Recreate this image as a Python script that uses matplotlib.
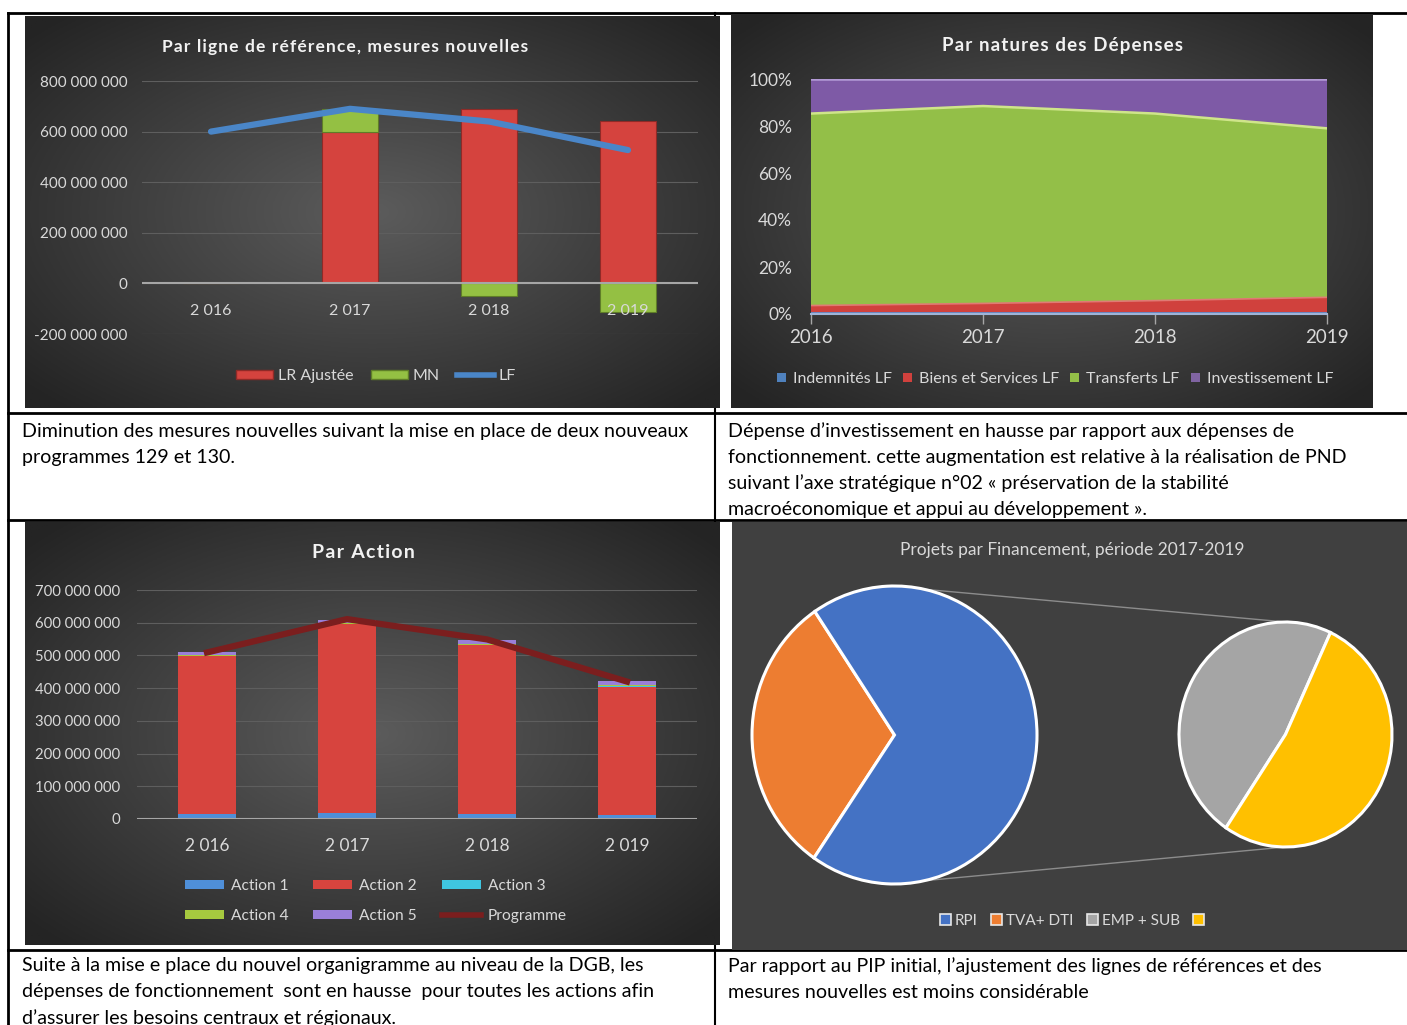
import numpy as np
import matplotlib
matplotlib.use('Agg')
import matplotlib.pyplot as plt
from matplotlib.patches import Patch, ConnectionPatch
from matplotlib.lines import Line2D
from matplotlib.ticker import FuncFormatter

plt.rcParams['font.family'] = ['Lato', 'DejaVu Sans']

W, H = 1407, 1025

# --- chart 1: ligne de reference / mesures nouvelles
annees_lbl = ['2 016', '2 017', '2 018', '2 019']
lr_ajustee = [0, 600e6, 690e6, 640e6]
mn = [0, 90e6, -50e6, -115e6]
lf = [600e6, 690e6, 640e6, 527e6]

# --- chart 2: natures des depenses (parts en %)
annees = [2016, 2017, 2018, 2019]
indemnites = [0.8, 0.8, 0.8, 0.8]
biens_services = [2.8, 3.7, 4.9, 6.3]
transferts = [81.7, 84.0, 79.6, 71.9]
investissement = [14.7, 11.5, 14.7, 21.0]

# --- chart 3: par action
action1 = [15e6, 18e6, 15e6, 12e6]
action2 = [483e6, 577e6, 517e6, 392e6]
action3 = [1e6, 1e6, 1e6, 2e6]
action4 = [2e6, 2e6, 2e6, 4e6]
action5 = [9e6, 11e6, 12e6, 11e6]
programme = [509e6, 611e6, 549e6, 420e6]

# --- chart 4: projets par financement
pie_labels = ['RPI', 'TVA+ DTI', 'EMP + SUB', '']
main_vals = [31, 69]        # TVA+ DTI, RPI
second_vals = [47.5, 52.5]  # EMP + SUB, (sans libelle)

TXT = '#d9d9d9'


def rect(x0, y0, x1, y1):
    return [x0 / W, 1 - y1 / H, (x1 - x0) / W, (y1 - y0) / H]


def spaced(s):
    # excel titles are letter-spaced
    return '\u200a'.join(s)


def panel(fig, x0, y0, x1, y1):
    ax = fig.add_axes(rect(x0, y0, x1, y1), zorder=1)
    yy, xx = np.mgrid[-1:1:200j, -1:1:300j]
    r = np.clip(np.sqrt(xx ** 2 + yy ** 2) / 1.35, 0, 1)[..., None]
    c0 = np.array([0x5c, 0x5c, 0x5c]) / 255
    c1 = np.array([0x24, 0x24, 0x24]) / 255
    ax.imshow(c0 * (1 - r) + c1 * r, extent=[0, 1, 0, 1], aspect='auto')
    ax.set_axis_off()
    return ax


def style_axes(ax):
    ax.set_facecolor('none')
    for s in ax.spines.values():
        s.set_visible(False)
    ax.tick_params(length=0, colors=TXT)


def grid_lines(ax, ticks):
    for t in ticks:
        ax.axhline(t, color='#5e5e5e', lw=0.8, zorder=0.5)


fmt_num = FuncFormatter(lambda v, p: f'{v:,.0f}'.replace(',', ' '))

fig = plt.figure(figsize=(W / 100, H / 100), dpi=100)
fig.patch.set_facecolor('white')

# base layer: table lines and text cells
base = fig.add_axes([0, 0, 1, 1], zorder=0)
base.set_xlim(0, W)
base.set_ylim(H, 0)
base.set_axis_off()
for y in [13, 413, 520, 950]:
    base.plot([8, W], [y, y], color='black', lw=2)
base.plot([8, 8], [13, H], color='black', lw=2)
base.plot([715, 715], [13, H], color='black', lw=1.5)

cell_font = dict(fontsize=14.1, color='black', va='center', ha='left')
left1 = ['Diminution des mesures nouvelles suivant la mise en place de deux nouveaux',
         'programmes 129 et 130.']
right1 = ['Dépense d’investissement en hausse par rapport aux dépenses de',
          'fonctionnement. cette augmentation est relative à la réalisation de PND',
          'suivant l’axe stratégique n°02 « préservation de la stabilité',
          'macroéconomique et appui au développement ».']
left2 = ['Suite à la mise e place du nouvel organigramme au niveau de la DGB, les',
         'dépenses de fonctionnement  sont en hausse  pour toutes les actions afin',
         'd’assurer les besoins centraux et régionaux.']
right2 = ['Par rapport au PIP initial, l’ajustement des lignes de références et des',
          'mesures nouvelles est moins considérable']
for lines, x, y0 in [(left1, 22, 431), (right1, 728, 431), (left2, 22, 966), (right2, 728, 966)]:
    for i, t in enumerate(lines):
        base.text(x, y0 + 26 * i, t, **cell_font)

# ---------------- chart 1
panel(fig, 25, 16, 720, 408)
ax1 = fig.add_axes(rect(141.5, 81, 697.5, 334), zorder=2)
style_axes(ax1)
x = np.arange(len(annees_lbl))
lr = np.array(lr_ajustee)
m = np.array(mn)
ax1.bar(x, lr, width=0.4, color='#d5433e', edgecolor='#8f2a27', lw=0.8, zorder=1)
ax1.bar(x, m, bottom=np.where(m >= 0, lr, 0), width=0.4, color='#94c043',
        edgecolor='#5f7d28', lw=0.8, zorder=1)
ax1.plot(x, lf, color='#4a86c8', lw=4.5, solid_capstyle='round', zorder=4)
ax1.set_xlim(-0.5, 3.5)
ax1.set_ylim(-2e8, 8e8)
yt1 = np.arange(-2e8, 8.01e8, 2e8)
ax1.set_yticks(yt1)
ax1.yaxis.set_major_formatter(fmt_num)
grid_lines(ax1, yt1)
ax1.axhline(0, color='#a6a6a6', lw=1.5, zorder=1.2)
ax1.set_xticks(x)
ax1.set_xticklabels(annees_lbl)
ax1.tick_params(axis='y', pad=10, labelsize=11)
ax1.tick_params(axis='x', pad=15, labelsize=11.5)
ax1.spines['bottom'].set_position(('data', 0))
fig.text(345 / W, 1 - 47 / H, spaced('Par ligne de référence, mesures nouvelles'), ha='center',
         va='center', fontsize=12.5, fontweight='bold', color='#f2f2f2', zorder=5)
h1 = [Patch(facecolor='#d5433e', edgecolor='#8f2a27'),
      Patch(facecolor='#94c043', edgecolor='#5f7d28'),
      Line2D([], [], color='#4a86c8', lw=4)]
leg = fig.legend(h1, ['LR Ajustée', 'MN', 'LF'], loc='center', ncol=3,
                 bbox_to_anchor=(376 / W, 1 - 376 / H), frameon=False, fontsize=11.5,
                 labelcolor=TXT, handlelength=2.3, handleheight=0.55,
                 handletextpad=0.3, columnspacing=1.1)
leg.set_zorder(5)

# ---------------- chart 2
panel(fig, 731, 14, 1373, 408)
ax2 = fig.add_axes(rect(811, 79, 1327, 314), zorder=2)
style_axes(ax2)
ax2.stackplot(annees, indemnites, biens_services, transferts, investissement,
              colors=['#5b8fd0', '#d0413d', '#93bf48', '#7e5aa6'])
cum = np.cumsum([indemnites, biens_services, transferts, investissement], axis=0)
ax2.plot(annees, cum[1], color='#e07a74', lw=1.2)
ax2.plot(annees, cum[2], color='#cfe58a', lw=1.8)
ax2.plot(annees, cum[3], color='#b39ad6', lw=1.8)
ax2.set_xlim(2016, 2019)
ax2.set_ylim(0, 100)
ax2.set_yticks(range(0, 101, 20))
ax2.set_yticklabels([f'{v}%' for v in range(0, 101, 20)])
ax2.set_xticks(annees)
ax2.spines['bottom'].set_visible(True)
ax2.spines['bottom'].set_color('#9fb4d8')
ax2.spines['bottom'].set_linewidth(1.5)
ax2.tick_params(axis='y', pad=13.5, labelsize=12.5)
ax2.tick_params(axis='x', length=7, color='#a6a6a6', width=1, pad=4, labelsize=13.5)
fig.text(1062 / W, 1 - 45 / H, spaced('Par natures des Dépenses'), ha='center', va='center',
         fontsize=13.5, fontweight='bold', color='#f2f2f2', zorder=5)
h2 = [Patch(facecolor=c) for c in ['#4f81bd', '#d0413d', '#93bf48', '#8064a2']]
leg = fig.legend(h2, ['Indemnités LF', 'Biens et Services LF', 'Transferts LF', 'Investissement LF'],
                 loc='center', ncol=4, bbox_to_anchor=(1055 / W, 1 - 379 / H), frameon=False,
                 fontsize=11.5, labelcolor=TXT, handlelength=0.55, handleheight=0.55,
                 handletextpad=0.45, columnspacing=0.7)
leg.set_zorder(5)

# ---------------- chart 3
panel(fig, 25, 522, 720, 945)
ax3 = fig.add_axes(rect(137, 590, 697, 819), zorder=2)
style_axes(ax3)
cols3 = ['#4f8fd8', '#d7443e', '#3fc6e0', '#a6c93f', '#9a7fd8']
bottom = np.zeros(4)
for vals, c in zip([action1, action2, action3, action4, action5], cols3):
    ax3.bar(x, vals, bottom=bottom, width=0.41, color=c, lw=0, zorder=1)
    bottom += np.array(vals)
ax3.plot(x, programme, color='#7b1e1e', lw=4.5, zorder=4)
ax3.set_xlim(-0.5, 3.5)
ax3.set_ylim(0, 7e8)
yt3 = np.arange(0, 7.01e8, 1e8)
ax3.set_yticks(yt3)
ax3.yaxis.set_major_formatter(fmt_num)
grid_lines(ax3, yt3[1:])
ax3.axhline(0, color='#a6a6a6', lw=1.5, zorder=1.2)
ax3.set_xticks(x)
ax3.set_xticklabels(annees_lbl)
ax3.tick_params(axis='y', pad=12, labelsize=10.7)
ax3.tick_params(axis='x', pad=14, labelsize=12.5)
fig.text(363 / W, 1 - 553 / H, spaced('Par Action'), ha='center', va='center',
         fontsize=14, fontweight='bold', color='#f2f2f2', zorder=5)
h3 = [Patch(facecolor=c) for c in cols3] + [Line2D([], [], color='#7b1e1e', lw=4)]
lab3 = ['Action 1', 'Action 2', 'Action 3', 'Action 4', 'Action 5', 'Programme']
order = [0, 3, 1, 4, 2, 5]
leg = fig.legend([h3[i] for i in order], [lab3[i] for i in order], loc='center', ncol=3,
                 bbox_to_anchor=(376 / W, 1 - 901 / H), frameon=False, fontsize=11.2,
                 labelcolor=TXT, handlelength=2.5, handleheight=0.5, handletextpad=0.45,
                 columnspacing=1.6, labelspacing=1.0)
leg.set_zorder(5)

# ---------------- chart 4
bg4 = fig.add_axes(rect(732, 522, W, 950), zorder=1)
bg4.set_facecolor('#404040')
bg4.set_xticks([])
bg4.set_yticks([])
for s in bg4.spines.values():
    s.set_visible(False)
fig.text(1072 / W, 1 - 550 / H, 'Projets par Financement, période 2017-2019', ha='center',
         va='center', fontsize=12.5, color=TXT, zorder=5)

pa = fig.add_axes(rect(752, 586, 1037, 884), zorder=2)
w1, _ = pa.pie(main_vals, colors=['#ed7d31', '#4472c4'], startangle=124, counterclock=True,
               wedgeprops=dict(edgecolor='white', linewidth=2.2))
pb = fig.add_axes(rect(1179, 622, 1392, 847), zorder=2)
w2, _ = pb.pie(second_vals, colors=['#a5a5a5', '#ffc000'], startangle=65, counterclock=True,
               wedgeprops=dict(edgecolor='white', linewidth=2.2))
for a in (pa, pb):
    a.set_aspect('auto')
    a.set_xlim(-1, 1)
    a.set_ylim(-1, 1)
    a.set_axis_off()
for w in list(w1) + list(w2):
    w.set_clip_on(False)
ang = np.deg2rad(78)
for sgn in (1, -1):
    con = ConnectionPatch(xyA=(np.cos(ang), sgn * np.sin(ang)), coordsA=pa.transData,
                          xyB=(0, sgn * 1), coordsB=pb.transData, color='#8c8c8c', lw=1)
    con.set_zorder(1.5)
    fig.add_artist(con)

h4 = [Patch(facecolor=c, edgecolor='#e8e8e8', lw=1.2) for c in ['#4472c4', '#ed7d31', '#a5a5a5', '#ffc000']]
leg = fig.legend(h4, pie_labels, loc='center', ncol=4, bbox_to_anchor=(1074 / W, 1 - 921 / H),
                 frameon=False, fontsize=11, labelcolor=TXT, handlelength=0.7, handleheight=0.7,
                 handletextpad=0.25, columnspacing=0.9)
leg.set_zorder(5)

fig.savefig('out.png', dpi=100)
